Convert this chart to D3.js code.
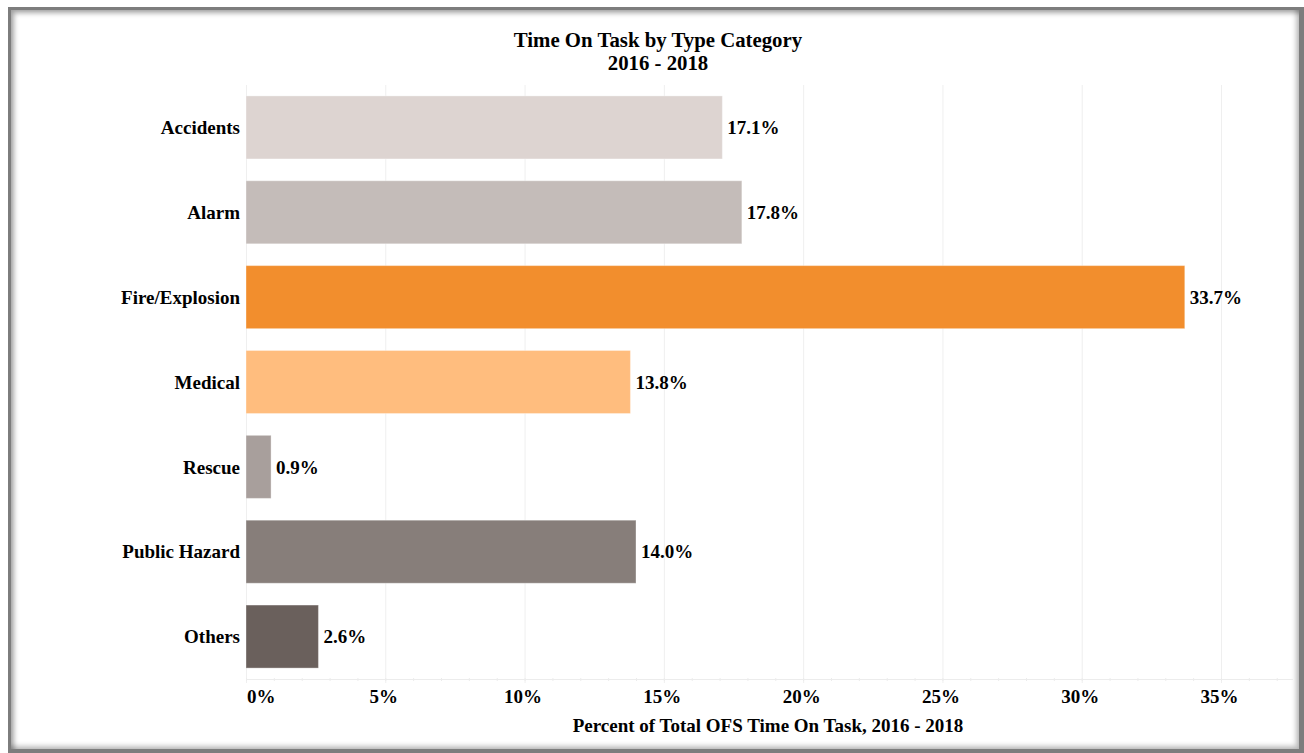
<!DOCTYPE html>
<html>
<head>
<meta charset="utf-8">
<script src="https://cdn.jsdelivr.net/npm/d3@7"></script>
<style>
  html, body { margin: 0; padding: 0; background: #ffffff; }
  body { width: 1304px; height: 753px; overflow: hidden; position: relative; }
  #frame {
    position: absolute; left: 8px; top: 7px; width: 1288px; height: 739px;
    border: 3px solid #7d7d7d; border-right-width: 5px; border-bottom-width: 4px;
    box-shadow: inset 3px 3px 5px rgba(0,0,0,0.35), inset -3px -3px 5px rgba(0,0,0,0.25);
    box-sizing: content-box;
  }
  svg { position: absolute; left: 0; top: 0; }
  text { font-family: "Liberation Serif", "Times New Roman", serif; font-weight: bold; fill: #000; }
</style>
</head>
<body>
<div id="frame"></div>
<svg id="chart" width="1304" height="753"></svg>
<script>
const categories = ["Accidents", "Alarm", "Fire/Explosion", "Medical", "Rescue", "Public Hazard", "Others"];
const values = [17.1, 17.8, 33.7, 13.8, 0.9, 14.0, 2.6];
const colors = ["#ddd4d1", "#c4bcb9", "#f28e2d", "#ffbd7e", "#a89f9c", "#877e7a", "#6a605c"];
const tickValues = [0, 5, 10, 15, 20, 25, 30, 35];
const titleLines = ["Time On Task by Type Category", "2016 - 2018"];
const xAxisTitle = "Percent of Total OFS Time On Task, 2016 - 2018";

const data = categories.map((c, i) => ({ cat: c, value: values[i], color: colors[i] }));

const svg = d3.select("#chart");
const x0 = 246, xEnd = 1293, yTop = 85, yBottom = 679;
const x = d3.scaleLinear().domain([0, 35]).range([x0, x0 + 975]);
const y = d3.scaleBand().domain(categories).range([yTop, yBottom]).paddingInner(0.257).paddingOuter(0.1285);

// gridlines
svg.append("g").selectAll("line").data(tickValues).join("line")
  .attr("x1", d => x(d) + 0.5).attr("x2", d => x(d) + 0.5)
  .attr("y1", yTop).attr("y2", yBottom + 4)
  .attr("stroke", "#efefef").attr("stroke-width", 1);

// axis baseline
svg.append("line").attr("x1", x0).attr("x2", xEnd)
  .attr("y1", yBottom + 0.5).attr("y2", yBottom + 0.5)
  .attr("stroke", "#ececec").attr("stroke-width", 1);

// minor ticks
const minor = d3.range(0, 38);
svg.append("g").selectAll("line").data(minor.filter(d => x(d) <= xEnd)).join("line")
  .attr("x1", d => x(d) + 0.5).attr("x2", d => x(d) + 0.5)
  .attr("y1", yBottom - 1).attr("y2", yBottom + 2)
  .attr("stroke", "#ececec");

// bars
svg.append("g").selectAll("rect").data(data).join("rect")
  .attr("x", x(0))
  .attr("y", d => y(d.cat))
  .attr("width", d => x(d.value) - x(0))
  .attr("height", y.bandwidth())
  .attr("fill", d => d.color)
  .attr("stroke", "rgba(255,255,255,0.35)")
  .attr("stroke-width", 1);

// value labels
svg.append("g").selectAll("text").data(data).join("text")
  .attr("x", d => x(d.value) + 5)
  .attr("y", d => y(d.cat) + y.bandwidth() / 2)
  .attr("dy", "0.35em")
  .style("font-size", "19px")
  .text(d => d.value.toFixed(1) + "%");

// category labels
svg.append("g").selectAll("text").data(data).join("text")
  .attr("x", 240)
  .attr("y", d => y(d.cat) + y.bandwidth() / 2)
  .attr("dy", "0.35em")
  .attr("text-anchor", "end")
  .style("font-size", "19px")
  .text(d => d.cat);

// x tick labels
svg.append("g").selectAll("text").data(tickValues).join("text")
  .attr("x", d => d === 0 ? x(d) + 1 : x(d) - 1.5)
  .attr("y", 703)
  .attr("text-anchor", d => d === 0 ? "start" : "middle")
  .style("font-size", "19px")
  .text(d => d + "%");

// axis title
svg.append("text").attr("x", 768).attr("y", 732)
  .attr("text-anchor", "middle").style("font-size", "19px")
  .text(xAxisTitle);

// chart title
svg.append("g").selectAll("text").data(titleLines).join("text")
  .attr("x", 658).attr("y", (d, i) => 47 + i * 23)
  .attr("text-anchor", "middle").style("font-size", "20.8px")
  .text(d => d);
</script>
</body>
</html>
